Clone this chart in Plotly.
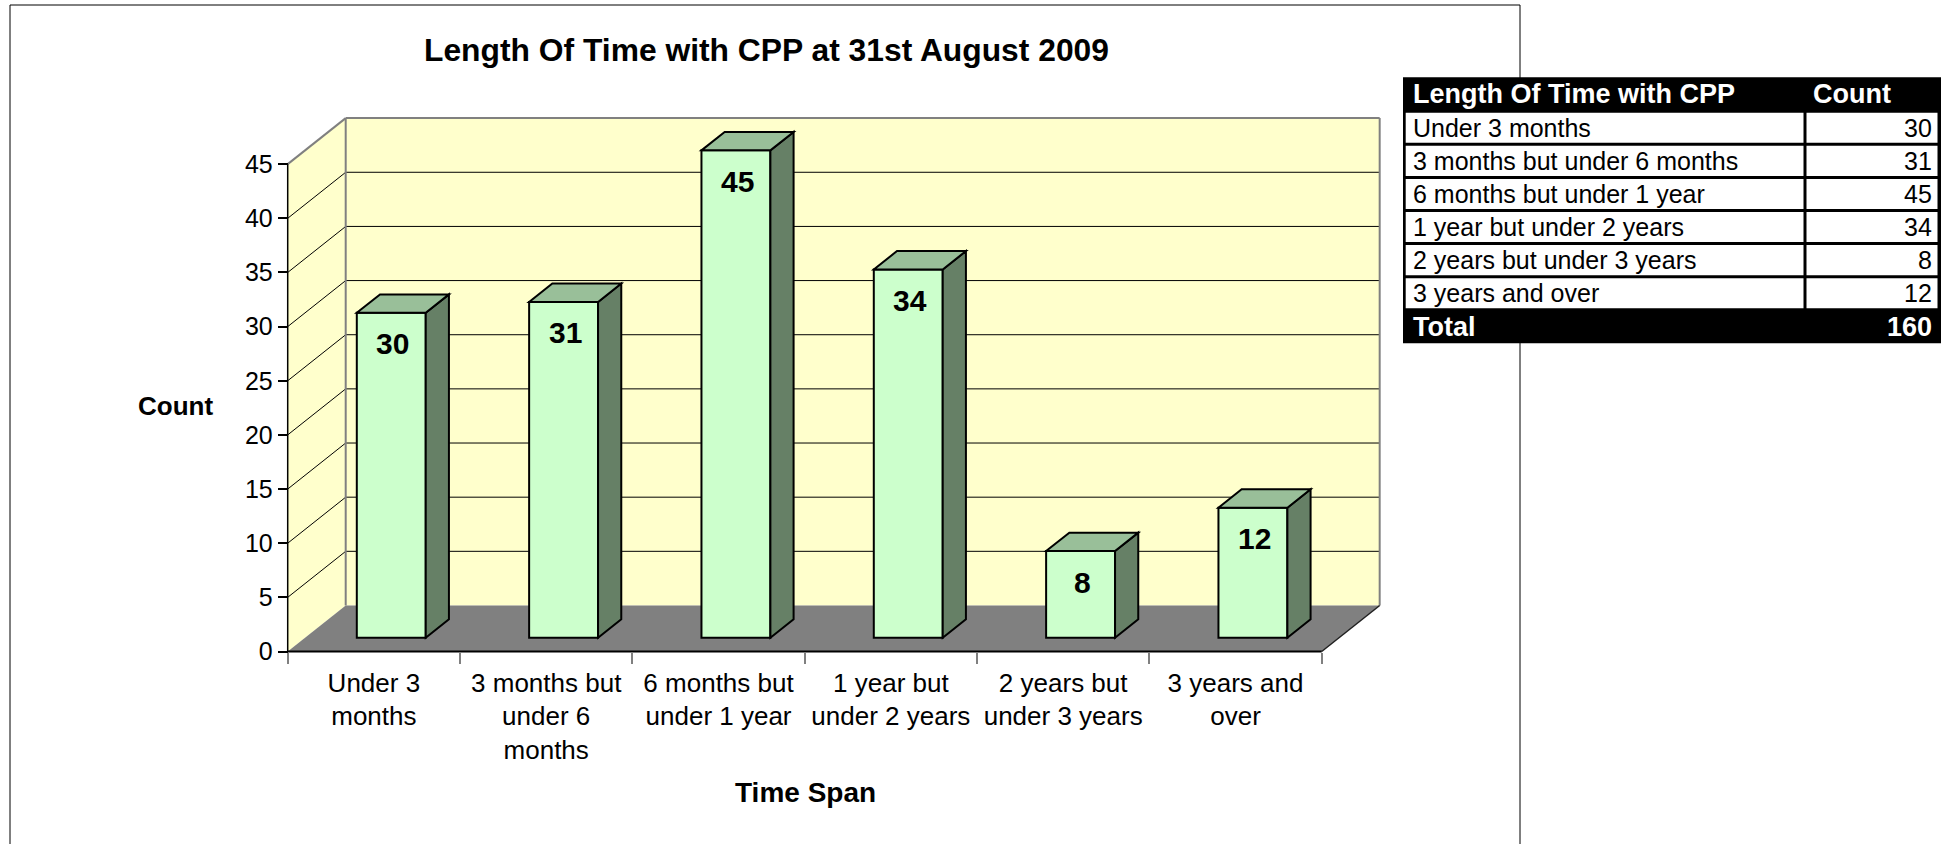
import plotly.graph_objects as go

# ---------------- data ----------------
title_text = "Length Of Time with CPP at 31st August 2009"
categories = ["Under 3 months", "3 months but under 6 months", "6 months but under 1 year",
              "1 year but under 2 years", "2 years but under 3 years", "3 years and over"]
axis_labels = ["Under 3<br>months", "3 months but<br>under 6<br>months", "6 months but<br>under 1 year",
               "1 year but<br>under 2 years", "2 years but<br>under 3 years", "3 years and<br>over"]
counts = [30, 31, 45, 34, 8, 12]
total_label = "Total"
total_count = 160
y_ticks = [0, 5, 10, 15, 20, 25, 30, 35, 40, 45]
table_header = ["Length Of Time with CPP", "Count"]
x_title = "Time Span"
y_title = "Count"

# ---------------- layout geometry (pixels) ----------------
W, H = 1957, 844
X0_PX, X_UNIT = 287.7, 172.33      # pixel of category 0 front edge, px per category
Y0_PX, Y_UNIT = 651.5, 10.83       # pixel of value 0 on the front plane, px per unit
DX, DY = 0.3366, 4.25              # depth of the 3-D box in data units
F0, F1 = 0.3, 0.7                  # bar front / back depth fractions
BAR_W = 0.4
N = len(categories)
YMAX = y_ticks[-1]

XA, XB = -0.02, N + DX + 0.03
YA, YB = -0.15, YMAX + DY + 0.3

FONT = "Liberation Sans, Arial, sans-serif"
WALL = "#FFFFCC"
FLOOR = "#808080"
FRONT = "#CCFFCC"
SIDE = "#668066"
TOP = "#99BF99"
EDGE = "#808080"


def fx(px):
    return px / W


def fy(py):
    return 1 - py / H


shapes = []


def poly(pts, fill, lc=None, lw=0, layer="below"):
    path = "M " + " L ".join(f"{x:.5f},{y:.5f}" for x, y in pts) + " Z"
    shapes.append(dict(type="path", path=path, xref="x", yref="y", fillcolor=fill,
                       line=dict(color=lc or fill, width=lw), layer=layer))


def seg(x0, y0, x1, y1, color, width, layer="below"):
    shapes.append(dict(type="line", x0=x0, y0=y0, x1=x1, y1=y1, xref="x", yref="y",
                       line=dict(color=color, width=width), layer=layer))


def prect(x0, y0, x1, y1, fill):
    shapes.append(dict(type="rect", xref="paper", yref="paper", x0=fx(x0), y0=fy(y1), x1=fx(x1), y1=fy(y0),
                       fillcolor=fill, line=dict(width=0), layer="above"))


# walls and floor
poly([(0, 0), (DX, DY), (DX, YMAX + DY), (0, YMAX)], WALL)
poly([(DX, DY), (N + DX, DY), (N + DX, YMAX + DY), (DX, YMAX + DY)], WALL)
poly([(0, 0), (N, 0), (N + DX, DY), (DX, DY)], FLOOR)
for t in y_ticks[1:-1]:
    seg(0, t, DX, t + DY, "black", 1)
    seg(DX, t + DY, N + DX, t + DY, "black", 1)
seg(0, YMAX, DX, YMAX + DY, EDGE, 2)
seg(DX, YMAX + DY, N + DX, YMAX + DY, EDGE, 2)
seg(DX, DY, DX, YMAX + DY, EDGE, 2)
seg(N + DX, DY, N + DX, YMAX + DY, EDGE, 2)
seg(N, 0, N + DX, DY, "#202020", 1.5)
seg(0, 0, N, 0, "black", 2)
seg(0, 0, 0, YMAX, "black", 1.5)

# bars: side and top faces
bar_centers = []
for i, v in enumerate(counts):
    xl = i + 0.5 - BAR_W / 2 + F0 * DX
    xr = xl + BAR_W
    ddx = (F1 - F0) * DX
    bar_centers.append(xl + BAR_W / 2)
    poly([(xr, F0 * DY), (xr + ddx, F1 * DY), (xr + ddx, v + F1 * DY), (xr, v + F0 * DY)],
         SIDE, "black", 2, "above")
    poly([(xl, v + F0 * DY), (xr, v + F0 * DY), (xr + ddx, v + F1 * DY), (xl + ddx, v + F1 * DY)],
         TOP, "black", 2, "above")

# chart border
for (x0, y0, x1, y1) in [(10, 5, 1520, 5), (10, 5, 10, 900), (1520, 5, 1520, 900)]:
    shapes.append(dict(type="line", xref="paper", yref="paper", x0=fx(x0), y0=fy(y0), x1=fx(x1), y1=fy(y1),
                       line=dict(color="black", width=1), layer="below"))

fig = go.Figure()
fig.add_trace(go.Bar(
    x=bar_centers, y=counts, base=[F0 * DY] * N, width=BAR_W,
    marker=dict(color=FRONT, line=dict(color="black", width=2)),
    hoverinfo="skip", showlegend=False,
))

annotations = []
for xc, v in zip(bar_centers, counts):
    annotations.append(dict(x=xc + 0.01, y=v + F0 * DY, xref="x", yref="y", yshift=-31, showarrow=False,
                            text=f"<b>{v}</b>", font=dict(family=FONT, size=30, color="black"),
                            xanchor="center", yanchor="middle"))
annotations.append(dict(x=fx(766), y=fy(50), xref="paper", yref="paper", showarrow=False,
                        text=f"<b>{title_text}</b>", font=dict(family=FONT, size=31.8, color="black"),
                        xanchor="center", yanchor="middle"))
annotations.append(dict(x=fx(175), y=fy(405.6), xref="paper", yref="paper", showarrow=False,
                        text=f"<b>{y_title}</b>", font=dict(family=FONT, size=26, color="black"),
                        xanchor="center", yanchor="middle"))
annotations.append(dict(x=fx(805), y=fy(792), xref="paper", yref="paper", showarrow=False,
                        text=f"<b>{x_title}</b>", font=dict(family=FONT, size=28, color="black"),
                        xanchor="center", yanchor="middle"))

# ---------------- data table (drawn with paper shapes + text) ----------------
TBL_L, TBL_R, TBL_T, TBL_B = 1403, 1941, 77.3, 343.3
HDR_B, ROW_H, COL_X, BW = 111.2, 33.1, 1805, 1.5
TXT_L, TXT_R, TXT_C2 = 1410.7, 1934, 1811

prect(TBL_L, TBL_T, TBL_R, TBL_B, "black")
for k in range(N):
    yt = HDR_B + k * ROW_H + BW
    yb = HDR_B + (k + 1) * ROW_H - BW
    prect(TBL_L + 2.7, yt, COL_X - BW, yb, "white")
    prect(COL_X + BW, yt, TBL_R - 3.5, yb, "white")


def ptext(x, y, text, anchor, size, color, bold=False):
    annotations.append(dict(x=fx(x), y=fy(y), xref="paper", yref="paper", showarrow=False,
                            text=f"<b>{text}</b>" if bold else text, xanchor=anchor, yanchor="middle",
                            font=dict(family=FONT, size=size, color=color)))


hdr_c = (TBL_T + HDR_B) / 2
ptext(TXT_L, hdr_c, table_header[0], "left", 27, "white", True)
ptext(TXT_C2, hdr_c, table_header[1], "left", 27, "white", True)
for k, (lab, c) in enumerate(zip(categories, counts)):
    yc = HDR_B + (k + 0.5) * ROW_H
    ptext(TXT_L, yc, lab, "left", 25, "black")
    ptext(TXT_R, yc, str(c), "right", 25, "black")
tot_c = (HDR_B + N * ROW_H + TBL_B) / 2
ptext(TXT_L, tot_c, total_label, "left", 27, "white", True)
ptext(TXT_R, tot_c, str(total_count), "right", 27, "white", True)

fig.update_layout(
    width=W, height=H, margin=dict(l=0, r=0, t=0, b=0),
    paper_bgcolor="white", plot_bgcolor="rgba(0,0,0,0)",
    showlegend=False, shapes=shapes, annotations=annotations,
    font=dict(family=FONT, size=25, color="black"),
    xaxis=dict(domain=[fx(X0_PX + XA * X_UNIT), fx(X0_PX + XB * X_UNIT)], range=[XA, XB],
               anchor="free", position=fy(Y0_PX),
               tickmode="array", tickvals=[i + 0.5 for i in range(N)], ticktext=axis_labels,
               ticks="", showgrid=False, zeroline=False, showline=False, automargin=False,
               ticklabelstandoff=13,
               tickfont=dict(family=FONT, size=26, color="black"),
               minor=dict(tickmode="array", tickvals=list(range(N + 1)), ticks="outside",
                          ticklen=11, tickcolor="#808080", tickwidth=1.5, showgrid=False),
               fixedrange=True),
    yaxis=dict(domain=[fy(Y0_PX - YA * Y_UNIT), fy(Y0_PX - YB * Y_UNIT)], range=[YA, YB],
               anchor="free", position=fx(X0_PX),
               tickmode="array", tickvals=y_ticks, ticks="outside", ticklen=10,
               tickcolor="black", tickwidth=1.5, showgrid=False, zeroline=False, showline=False,
               automargin=False, tickfont=dict(family=FONT, size=25, color="black"),
               fixedrange=True),
)

fig.write_html("out.html", config={"displayModeBar": False},
               post_script="document.body.style.margin='0px';document.body.style.overflow='hidden';")
